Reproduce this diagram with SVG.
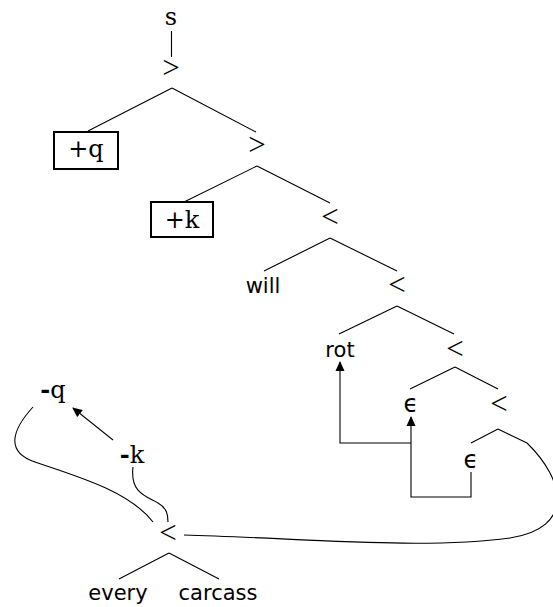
<svg xmlns="http://www.w3.org/2000/svg" width="553" height="607" viewBox="0 0 553 607">
<style>
  .ln { stroke:#000; stroke-width:1.1; fill:none; }
  .box { stroke:#000; stroke-width:2; fill:#fff; }
  .tt { font-family:"DejaVu Serif","Liberation Serif",serif; font-size:24px; text-anchor:middle; fill:#000; }
  .ss { font-family:"DejaVu Sans","Liberation Sans",sans-serif; font-size:21px; text-anchor:middle; fill:#000; }
  .op { font-family:"Liberation Serif","DejaVu Serif",serif; font-size:31px; text-anchor:middle; fill:#000; }
  .ep { font-family:"DejaVu Sans","Noto Sans",sans-serif; font-size:24px; text-anchor:middle; fill:#000; }
  .b { font-weight:bold; }
</style>
<defs>
  <marker id="ah" markerWidth="10" markerHeight="10" refX="9" refY="5" orient="auto" markerUnits="userSpaceOnUse">
    <path d="M0,0.5 L10,5 L0,9.5 Z" fill="#000"/>
  </marker>
</defs>

<g id="edges">
  <line class="ln" x1="171.5" y1="31" x2="171.5" y2="57"/>
  <line class="ln" x1="172" y1="88" x2="88" y2="131"/>
  <line class="ln" x1="172" y1="88" x2="256" y2="132"/>
  <line class="ln" x1="257" y1="166" x2="184" y2="202"/>
  <line class="ln" x1="257" y1="166" x2="330" y2="203"/>
  <line class="ln" x1="330" y1="238" x2="264" y2="271"/>
  <line class="ln" x1="330" y1="238" x2="397" y2="271"/>
  <line class="ln" x1="397" y1="306" x2="339" y2="334"/>
  <line class="ln" x1="397" y1="306" x2="454" y2="334"/>
  <line class="ln" x1="455" y1="367" x2="410" y2="389"/>
  <line class="ln" x1="455" y1="367" x2="498" y2="389"/>
  <line class="ln" x1="498" y1="429" x2="471" y2="443"/>
  <line class="ln" x1="498" y1="429" x2="527" y2="443"/>
  <line class="ln" x1="169" y1="553" x2="119" y2="579"/>
  <line class="ln" x1="169" y1="553" x2="219" y2="579"/>
  <path class="ln" d="M411,443 H340 V362" marker-end="url(#ah)"/>
  <path class="ln" d="M471,472 V497 H411 V417" marker-end="url(#ah)"/>
  <line class="ln" x1="113" y1="440" x2="73" y2="408" marker-end="url(#ah)"/>
  <path class="ln" d="M33,407 C12,430 5,452 35,462 C80,477 130,492 153,522"/>
  <path class="ln" d="M133,467 C130,492 145,496 158,503 C167,508 168,515 168,522"/>
  <path class="ln" d="M184,535 C300,538 420,550 510,538 C575,528 565,480 527,443"/>
</g>

<g id="n-s"><text class="tt" x="171" y="25">s</text></g>
<g id="n-gt1"><text class="op" x="171" y="78">&gt;</text></g>
<g id="n-q"><rect class="box" x="54" y="132" width="64" height="37"/><text class="tt" x="86" y="157">+q</text></g>
<g id="n-gt2"><text class="op" x="257" y="155">&gt;</text></g>
<g id="n-k"><rect class="box" x="151" y="202" width="62" height="35"/><text class="tt" x="182" y="228">+k</text></g>
<g id="n-lt1"><text class="op" x="330" y="227">&lt;</text></g>
<g id="n-will"><text class="ss" x="263" y="293">will</text></g>
<g id="n-lt2"><text class="op" x="397" y="295">&lt;</text></g>
<g id="n-rot"><text class="ss" x="340" y="357">rot</text></g>
<g id="n-lt3"><text class="op" x="455" y="359">&lt;</text></g>
<g id="n-eps1"><text class="ep" x="411" y="412">ϵ</text></g>
<g id="n-lt4"><text class="op" x="499" y="414">&lt;</text></g>
<g id="n-eps2"><text class="ep" x="471" y="468">ϵ</text></g>
<g id="n-mq"><text class="tt" x="53" y="398"><tspan class="b">-</tspan>q</text></g>
<g id="n-mk"><text class="tt" x="132" y="463"><tspan class="b">-</tspan>k</text></g>
<g id="n-lt5"><text class="op" x="168" y="543">&lt;</text></g>
<g id="n-every"><text class="ss" x="118" y="600">every</text></g>
<g id="n-carcass"><text class="ss" x="218" y="600">carcass</text></g>
</svg>
